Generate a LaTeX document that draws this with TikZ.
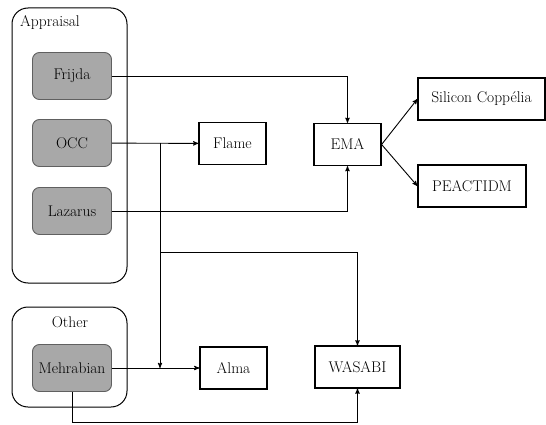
\documentclass[tikz,border=0pt]{standalone}
\usetikzlibrary{arrows,positioning}

\begin{document}
\begin{tikzpicture} [->,>=stealth',x=1pt,y=-1pt,font=\fontsize{15.5}{18}\selectfont]
  \tikzstyle{theory}=[draw=gray!75!black,fill=gray!68,rounded corners=7pt,minimum width=79pt,minimum height=47pt,inner sep=1pt]
  \tikzstyle{model}=[draw,line width=1.2pt,minimum width=67pt,minimum height=42pt,inner sep=2pt]
  \tikzstyle{group}=[draw,line width=1pt,rounded corners=16pt]
  \tikzstyle{every path}=[line width=0.9pt]
  \useasboundingbox (0,0) rectangle (546,425);

  % groups
  \node[group,minimum width=115pt,minimum height=275pt] (appraisal) at (69.5,145.5) {};
  \node[group,minimum width=115pt,minimum height=100pt] (other) at (69.5,357) {};
  \node (appraisallbl) at (50,23) {Appraisal};
  \node (otherlbl) at (70,322) {Other};

  \node[theory]        (frijda)    at (72,76)   {Frijda};
  \node[theory]        (occ)       at (72,143)  {OCC};
  \node[theory]        (lazarus)   at (72,211)  {Lazarus};
  \node[theory]        (mehrabian) at (72,368)  {Mehrabian};

  \node[model]         (flame)     at (232.5,143.5) {Flame};
  \node[model]         (ema)       at (347.5,144.5) {EMA};
  \node[model,minimum width=127pt] (silicon) at (481.5,99) {Silicon Coppélia};
  \node[model,minimum width=108pt] (peactidm) at (472,186) {PEACTIDM};
  \node[model]         (alma)      at (233.5,368) {Alma};
  \node[model,minimum width=85pt] (wasabi) at (357.5,367) {WASABI};

  \coordinate (split)  at (160,143);
  \coordinate (branch) at (160,252);
  \coordinate (join)   at (160,368);
  \coordinate (low)    at (72,422);

  \draw (frijda) -| (ema);
  \draw (lazarus) -| (ema);
  \draw (occ) -- (flame);
  \draw (split) -- (join);
  \draw (branch) -| (wasabi);
  \draw (mehrabian) -- (alma);
  \draw (mehrabian.south) -- (low) -| (wasabi.south);
  \draw (ema.east) -- (silicon.west);
  \draw (ema.east) -- (peactidm.west);

\end{tikzpicture}
\end{document}
